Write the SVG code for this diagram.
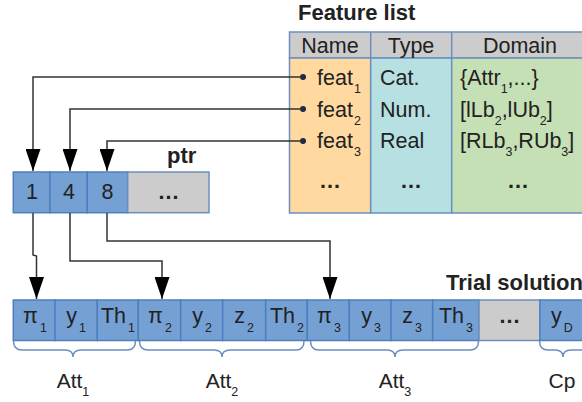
<svg xmlns="http://www.w3.org/2000/svg" width="582" height="402" viewBox="0 0 582 402">
<style>
text{font-family:"Liberation Sans",Arial,sans-serif;font-size:21.5px;fill:#222}
.b{font-weight:bold;font-size:22px}
.m{text-anchor:middle}
.s{font-size:12.5px}
.a{font-size:21px}
.cell{fill:#74a0d4;stroke:#4d7fbf;stroke-width:1.5}
.gray{fill:#cccccc;stroke:#6c8ebf;stroke-width:1.5}
.tb{stroke:#6c8ebf;stroke-width:1.5}
.con{fill:none;stroke:#333;stroke-width:1.5}
.brace{fill:none;stroke:#6c8ebf;stroke-width:1.5}
</style>
<defs>
<marker id="ah" markerUnits="userSpaceOnUse" viewBox="0 0 22 15" refX="22" refY="7.5" markerWidth="22" markerHeight="15" orient="auto">
<path d="M0,0 L22,7.5 L0,15 z" fill="#000"/>
</marker>
</defs>

<g id="feature-list">
<text class="b" x="298" y="20">Feature list</text>
<rect class="tb" x="289.5" y="32" width="300" height="26" fill="#cccccc"/>
<rect class="tb" x="289.5" y="58" width="81.2" height="155" fill="#ffd9a0"/>
<rect class="tb" x="370.7" y="58" width="81" height="155" fill="#b6e0e2"/>
<rect class="tb" x="451.7" y="58" width="140" height="155" fill="#c5e0b4"/>
<line class="tb" x1="370.7" y1="32" x2="370.7" y2="58"/>
<line class="tb" x1="451.7" y1="32" x2="451.7" y2="58"/>
<text class="m" x="330" y="53">Name</text>
<text class="m" x="411" y="53">Type</text>
<text class="m" x="520" y="53">Domain</text>
<text x="317" y="85">feat<tspan class="s" dx="1" dy="8">1</tspan></text>
<text x="317" y="117">feat<tspan class="s" dx="1" dy="8">2</tspan></text>
<text x="317" y="148">feat<tspan class="s" dx="1" dy="8">3</tspan></text>
<text class="m b" x="330" y="188">…</text>
<text x="380" y="85">Cat.</text>
<text x="380" y="117">Num.</text>
<text x="380" y="148">Real</text>
<text class="m b" x="411" y="188">…</text>
<text x="460" y="85">{Attr<tspan class="s" dy="8">1</tspan><tspan dy="-8">,...}</tspan></text>
<text x="460" y="117">[lLb<tspan class="s" dy="8">2</tspan><tspan dy="-8">,lUb</tspan><tspan class="s" dy="8">2</tspan><tspan dy="-8">]</tspan></text>
<text x="460" y="148">[RLb<tspan class="s" dy="8">3</tspan><tspan dy="-8">,RUb</tspan><tspan class="s" dy="8">3</tspan><tspan dy="-8">]</tspan></text>
<text class="m b" x="518" y="188">…</text>
<circle cx="303" cy="77" r="3" fill="#1a2a4a"/>
<circle cx="303" cy="109" r="3" fill="#1a2a4a"/>
<circle cx="303" cy="141" r="3" fill="#1a2a4a"/>
</g>

<g id="ptr">
<text class="b" x="167" y="163">ptr</text>
<rect class="cell" x="13.3" y="172" width="36.7" height="40.7"/>
<rect class="cell" x="50" y="172" width="37.3" height="40.7"/>
<rect class="cell" x="87.3" y="172" width="40.4" height="40.7"/>
<rect class="gray" x="127.7" y="172" width="81.3" height="40.7"/>
<text class="m" x="32" y="199">1</text>
<text class="m" x="69" y="199">4</text>
<text class="m" x="107.5" y="199">8</text>
<text class="m b" x="168.5" y="199">…</text>
</g>

<g id="trial-solution">
<text class="b" x="446" y="290">Trial solution</text>
<rect class="cell" x="13.3" y="300" width="41.7" height="40.5"/>
<rect class="cell" x="55" y="300" width="42.3" height="40.5"/>
<rect class="cell" x="97.3" y="300" width="41" height="40.5"/>
<rect class="cell" x="138.3" y="300" width="42.4" height="40.5"/>
<rect class="cell" x="180.7" y="300" width="42" height="40.5"/>
<rect class="cell" x="222.7" y="300" width="43" height="40.5"/>
<rect class="cell" x="265.7" y="300" width="41.6" height="40.5"/>
<rect class="cell" x="307.3" y="300" width="42" height="40.5"/>
<rect class="cell" x="349.3" y="300" width="41.7" height="40.5"/>
<rect class="cell" x="391" y="300" width="41.7" height="40.5"/>
<rect class="cell" x="432.7" y="300" width="46.3" height="40.5"/>
<rect class="gray" x="479" y="300" width="61" height="40.5"/>
<rect class="cell" x="540" y="300" width="44" height="40.5"/>
<text class="m" x="35" y="323">π<tspan class="s" dx="2" dy="9">1</tspan></text>
<text class="m" x="76" y="323">y<tspan class="s" dx="2" dy="9">1</tspan></text>
<text class="m" x="118" y="323">Th<tspan class="s" dx="2" dy="9">1</tspan></text>
<text class="m" x="160" y="323">π<tspan class="s" dx="2" dy="9">2</tspan></text>
<text class="m" x="202" y="323">y<tspan class="s" dx="2" dy="9">2</tspan></text>
<text class="m" x="244" y="323">z<tspan class="s" dx="2" dy="9">2</tspan></text>
<text class="m" x="287" y="323">Th<tspan class="s" dx="2" dy="9">2</tspan></text>
<text class="m" x="329" y="323">π<tspan class="s" dx="2" dy="9">3</tspan></text>
<text class="m" x="371" y="323">y<tspan class="s" dx="2" dy="9">3</tspan></text>
<text class="m" x="412" y="323">z<tspan class="s" dx="2" dy="9">3</tspan></text>
<text class="m" x="456" y="323">Th<tspan class="s" dx="2" dy="9">3</tspan></text>
<text class="m b" x="509.5" y="323">…</text>
<text class="m" x="562" y="323">y<tspan class="s" dx="2" dy="9">D</tspan></text>
</g>

<g id="braces">
<path class="brace" d="M13.5,341 Q13.5,350 22,350 H65 Q73,350 73,357 Q73,350 81,350 H127 Q135.5,350 135.5,341"/>
<path class="brace" d="M139.5,341 Q139.5,350 148,350 H214 Q222,350 222,357 Q222,350 230,350 H296 Q304,350 304,341"/>
<path class="brace" d="M310.5,341 Q310.5,350 319,350 H387 Q395,350 395,357 Q395,350 403,350 H470 Q478.5,350 478.5,341"/>
<path class="brace" d="M539.5,341 Q539.5,350 548,350 H555 Q563,350 563,357 Q563,350 571,350 H582"/>
<text class="m a" x="73" y="388">Att<tspan class="s" dy="8">1</tspan></text>
<text class="m a" x="222" y="388">Att<tspan class="s" dy="8">2</tspan></text>
<text class="m a" x="395" y="388">Att<tspan class="s" dy="8">3</tspan></text>
<text class="m a" x="562" y="388">Cp</text>
</g>

<g id="connectors">
<path class="con" d="M303,77 H33 V171" marker-end="url(#ah)"/>
<path class="con" d="M303,109 H70 V171" marker-end="url(#ah)"/>
<path class="con" d="M303,141 H107 V171" marker-end="url(#ah)"/>
<path class="con" d="M33,213 V255 L36.5,256 V299" marker-end="url(#ah)"/>
<path class="con" d="M70,213 V261 H162 V299" marker-end="url(#ah)"/>
<path class="con" d="M107,213 V241 H330 V299" marker-end="url(#ah)"/>
</g>
</svg>
